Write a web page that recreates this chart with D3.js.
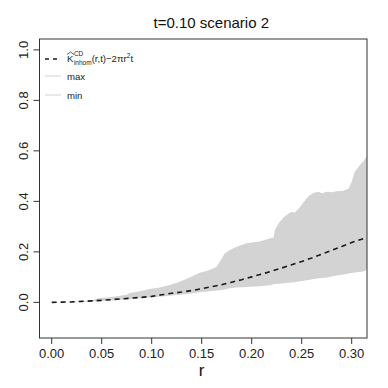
<!DOCTYPE html>
<html>
<head>
<meta charset="utf-8">
<script src="https://cdn.jsdelivr.net/npm/d3@7"></script>
<style>
  html, body { margin: 0; padding: 0; background: #fff; }
  svg { display: block; }
</style>
</head>
<body>
<div id="chart"></div>
<script>
// ── envelope plot: K-function estimate with simulation band ──

// dashed estimate curve
const rMean = [0, 0.01, 0.02, 0.03, 0.04, 0.05, 0.06, 0.07, 0.08, 0.09, 0.10,
  0.11, 0.12, 0.13, 0.14, 0.15, 0.16, 0.17, 0.18, 0.19, 0.20, 0.21, 0.22,
  0.23, 0.24, 0.25, 0.26, 0.27, 0.28, 0.29, 0.30, 0.31, 0.316]
const meanVals = [0, 0.001, 0.002, 0.004, 0.006, 0.008, 0.011, 0.014, 0.017, 0.020, 0.024,
  0.030, 0.036, 0.041, 0.047, 0.054, 0.062, 0.070, 0.080, 0.090, 0.101, 0.112, 0.124,
  0.136, 0.149, 0.162, 0.176, 0.191, 0.206, 0.221, 0.237, 0.250, 0.256]

// simulation envelope (max / min)
const rBand = [0, 0.01, 0.02, 0.03, 0.04, 0.047, 0.055, 0.065, 0.075, 0.078, 0.088, 0.098,
  0.108, 0.118, 0.128, 0.138, 0.148, 0.158, 0.165, 0.168, 0.173, 0.178, 0.185, 0.195,
  0.202, 0.208, 0.218, 0.222, 0.223, 0.227, 0.232, 0.237, 0.240, 0.243, 0.248, 0.252,
  0.257, 0.262, 0.267, 0.270, 0.275, 0.280, 0.285, 0.292, 0.297, 0.300, 0.303, 0.307,
  0.310, 0.313, 0.316]
const maxVals = [0, 0.001, 0.003, 0.005, 0.008, 0.016, 0.019, 0.024, 0.030, 0.037, 0.044, 0.053,
  0.059, 0.069, 0.082, 0.099, 0.117, 0.128, 0.141, 0.161, 0.194, 0.207, 0.220, 0.234,
  0.238, 0.241, 0.253, 0.257, 0.286, 0.313, 0.337, 0.352, 0.359, 0.355, 0.376, 0.398,
  0.421, 0.434, 0.438, 0.432, 0.438, 0.436, 0.440, 0.442, 0.451, 0.478, 0.517, 0.537,
  0.552, 0.565, 0.585]
const minVals = [0, 0.0005, 0.001, 0.002, 0.004, 0.005, 0.007, 0.009, 0.011, 0.012, 0.016, 0.019,
  0.022, 0.026, 0.030, 0.034, 0.040, 0.044, 0.047, 0.048, 0.051, 0.056, 0.059, 0.061,
  0.063, 0.064, 0.068, 0.072, 0.073, 0.074, 0.076, 0.078, 0.079, 0.080, 0.084, 0.086,
  0.089, 0.093, 0.096, 0.097, 0.099, 0.103, 0.106, 0.110, 0.114, 0.116, 0.118, 0.120,
  0.121, 0.124, 0.132]

const xTicks = [0, 0.05, 0.10, 0.15, 0.20, 0.25, 0.30]
const yTicks = [0, 0.2, 0.4, 0.6, 0.8, 1.0]
const titleText = 't=0.10 scenario 2'
const xLabel = 'r'

const W = 388, H = 388
const mLeft = 39.5, mRight = 367, mTop = 39, mBottom = 338
const font = '"Liberation Sans", Arial, Helvetica, sans-serif'
const bandColor = '#d3d3d3'

const svg = d3.select('#chart').append('svg')
  .attr('width', W).attr('height', H)
  .attr('viewBox', `0 0 ${W} ${H}`)

const x = d3.scaleLinear().domain([-0.0122, 0.3153]).range([mLeft, mRight])
const y = d3.scaleLinear().domain([-0.141, 1.043]).range([mBottom, mTop])

const bandRows = rBand.map((r, i) => ({ r, max: maxVals[i], min: minVals[i] }))
const meanRows = rMean.map((r, i) => ({ r, v: meanVals[i] }))

svg.append('clipPath').attr('id', 'plotClip')
  .append('rect')
  .attr('x', mLeft).attr('y', mTop)
  .attr('width', mRight - mLeft).attr('height', mBottom - mTop)

const plot = svg.append('g').attr('clip-path', 'url(#plotClip)')

plot.append('path')
  .datum(bandRows)
  .attr('fill', bandColor)
  .attr('stroke', 'none')
  .attr('d', d3.area().x(d => x(d.r)).y0(d => y(d.min)).y1(d => y(d.max)))

plot.append('path')
  .datum(meanRows)
  .attr('fill', 'none')
  .attr('stroke', '#1a1a1a')
  .attr('stroke-width', 1.6)
  .attr('stroke-dasharray', '5,4')
  .attr('d', d3.line().x(d => x(d.r)).y(d => y(d.v)))

// box
svg.append('rect')
  .attr('x', mLeft).attr('y', mTop)
  .attr('width', mRight - mLeft).attr('height', mBottom - mTop)
  .attr('fill', 'none').attr('stroke', '#333').attr('stroke-width', 1)

// x axis (R style: ticks + labels below)
const xAxis = svg.append('g')
xAxis.selectAll('line').data(xTicks).join('line')
  .attr('x1', d => x(d)).attr('x2', d => x(d))
  .attr('y1', mBottom).attr('y2', mBottom + 6)
  .attr('stroke', '#333')
xAxis.selectAll('text').data(xTicks).join('text')
  .attr('x', d => x(d)).attr('y', 358)
  .attr('text-anchor', 'middle')
  .attr('font-family', font).attr('font-size', 13)
  .attr('fill', '#222')
  .text(d => d3.format('.2f')(d))

// y axis, labels rotated like R's las=0
const yAxis = svg.append('g')
yAxis.selectAll('line').data(yTicks).join('line')
  .attr('x1', mLeft).attr('x2', mLeft - 6)
  .attr('y1', d => y(d)).attr('y2', d => y(d))
  .attr('stroke', '#333')
yAxis.selectAll('text').data(yTicks).join('text')
  .attr('transform', d => `translate(28,${y(d)}) rotate(-90)`)
  .attr('text-anchor', 'middle')
  .attr('font-family', font).attr('font-size', 13)
  .attr('fill', '#222')
  .text(d => d3.format('.1f')(d))

svg.append('text')
  .attr('x', (mLeft + mRight) / 2 + 8).attr('y', 28)
  .attr('text-anchor', 'middle')
  .attr('font-family', font).attr('font-size', 15)
  .attr('fill', '#111')
  .text(titleText)

svg.append('text')
  .attr('x', x(0.15)).attr('y', 376)
  .attr('text-anchor', 'middle')
  .attr('font-family', font).attr('font-size', 17)
  .attr('fill', '#111')
  .text(xLabel)

// legend
const lg = svg.append('g').attr('font-family', font).attr('fill', '#222')
lg.append('line')
  .attr('x1', 45).attr('x2', 60).attr('y1', 59).attr('y2', 59)
  .attr('stroke', '#1a1a1a').attr('stroke-width', 1.6).attr('stroke-dasharray', '4,4')
lg.append('line')
  .attr('x1', 45).attr('x2', 61).attr('y1', 76).attr('y2', 76)
  .attr('stroke', bandColor).attr('stroke-width', 1)
lg.append('line')
  .attr('x1', 45).attr('x2', 61).attr('y1', 95).attr('y2', 95)
  .attr('stroke', bandColor).attr('stroke-width', 1)

lg.append('text').attr('x', 67).attr('y', 79.5).attr('font-size', 9.6).text('max')
lg.append('text').attr('x', 67).attr('y', 98.5).attr('font-size', 9.6).text('min')

// K-hat label with sub/superscripts
const kx = 67, ky = 62
const kText = lg.append('text').attr('x', kx).attr('y', ky).attr('font-size', 9.6).text('K')
const kW = kText.node().getComputedTextLength()
lg.append('text').attr('x', kx + kW + 0.5).attr('y', ky - 6).attr('font-size', 6.5).text('CD')
const sub = lg.append('text').attr('x', kx + kW + 0.5).attr('y', ky + 2.5).attr('font-size', 6.5).text('inhom')
const subW = sub.node().getComputedTextLength()
lg.append('path')
  .attr('d', `M${kx},${ky - 7.5} L${kx + 3.5},${ky - 10} L${kx + 7},${ky - 7.5}`)
  .attr('fill', 'none').attr('stroke', '#222').attr('stroke-width', 0.7)
const rest = lg.append('text').attr('x', kx + kW + 0.5 + subW).attr('y', ky).attr('font-size', 9.6)
  .text('(r,t)\u22122\u03c0r')
const restW = rest.node().getComputedTextLength()
const rx = kx + kW + 0.5 + subW + restW
lg.append('text').attr('x', rx).attr('y', ky - 4).attr('font-size', 6.5).text('2')
lg.append('text').attr('x', rx + 3.8).attr('y', ky).attr('font-size', 9.6).text('t')
</script>
</body>
</html>
